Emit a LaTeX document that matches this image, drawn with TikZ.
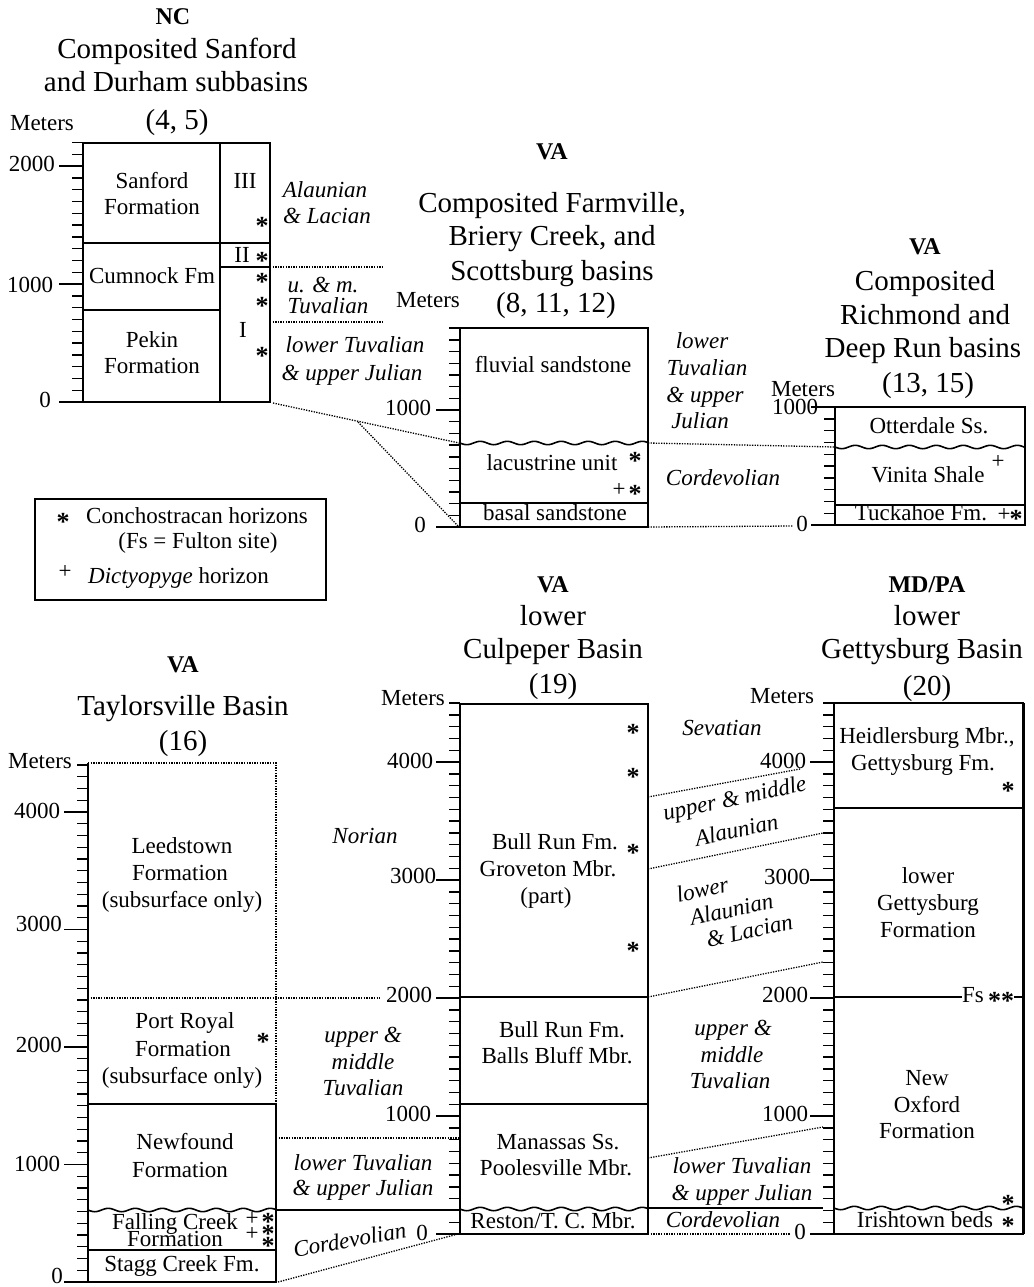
\documentclass[tikz,border=0pt]{standalone}
\usepackage{fontspec}
\setmainfont{Liberation Serif}
\newcommand\mytks[4]{%
  \foreach \i in {0,...,#3}{%
    \pgfmathsetmacro\yy{#2-\i*#4/10}%
    \pgfmathtruncatemacro\mm{mod(\i,10)}%
    \ifnum\mm=0 \draw[tk] ({#1-24},\yy)--(#1,\yy);\else\draw[tk] ({#1-11},\yy)--(#1,\yy);\fi
  }}
\newcommand\mywave[4]{%
  \draw[bx] plot[domain=#1:#2,samples=90,smooth] (\x,{#3+1.7*sin((\x-#1)/#4*360)});}
\newcommand\nolsk{\lineskiplimit -100pt\relax}
\begin{document}
\begin{tikzpicture}[x=1pt,y=-1pt,
  T/.style={font=\fontsize{23}{25}\selectfont, inner sep=0pt, text height=16pt, text depth=5pt},
  TT/.style={T, text height=13pt, text depth=3pt},
  I/.style={T, font=\fontsize{23}{25}\selectfont\itshape},
  H/.style={font=\fontsize{29}{31}\selectfont, inner sep=0pt, text height=20pt, text depth=6pt},
  HB/.style={H, font=\fontsize{24}{28}\selectfont\bfseries},
  ast/.style={font=\fontsize{26}{26}\selectfont\bfseries, inner sep=0pt, text height=5pt, text depth=5pt, yshift=-12pt},
  pl/.style={font=\fontsize{23}{23}\selectfont, inner sep=0pt, text height=12pt, text depth=0pt},
  stk/.style={anchor=north, align=center, inner sep=0pt},
  bx/.style={line width=1.6pt},
  dl/.style={line width=1.3pt, dash pattern=on 1.3pt off 1.3pt},
  tk/.style={line width=1.4pt}]
\useasboundingbox (0,0) rectangle (1033,1287);

% ================= NC =================
\node[HB] (ncA) at (173,18) {NC};
\node[H] (ncB) at (177,52) {Composited Sanford};
\node[H] (ncC) at (176,85) {and Durham subbasins};
\node[H] (ncD) at (177,122) {(4, 5)};
\node[T] (ncM) at (42,125) {Meters};
\draw[bx] (83,143) rectangle (270,402);
\draw[bx] (220,143) -- (220,402);
\draw[bx] (83,243) -- (270,243);
\draw[bx] (83,310) -- (220,310);
\draw[bx] (220,267) -- (270,267);
\mytks{83}{402}{22}{118}
\node[T] (ncy2) at (32,166) {2000};
\node[T] (ncy1) at (30,287) {1000};
\node[T] (ncy0) at (45,402) {0};
\node[T] (nc1) at (152,183) {Sanford};
\node[T] (nc2) at (152,209) {Formation};
\node[T] (nc3) at (152,278) {Cumnock Fm};
\node[T] (nc4) at (152,342) {Pekin};
\node[T] (nc5) at (152,368) {Formation};
\node[T] (nc6) at (245,183) {III};
\node[ast] (nc7) at (262,222) {*};
\node[T] (nc8) at (242,257) {II};
\node[ast] (nc9) at (262,257) {*};
\node[ast] (nc10) at (262,278) {*};
\node[ast] (nc11) at (262,302) {*};
\node[T] (nc12) at (243,332) {I};
\node[ast] (nc13) at (262,352) {*};
\node[I] (nc14) at (325,192) {Alaunian};
\node[I] (nc15) at (327,218) {\& Lacian};
\node[I] (nc16) at (323,287) {u. \& m.};
\node[I] (nc17) at (328,308) {Tuvalian};
\node[I] (nc18) at (355,347) {lower Tuvalian};
\node[I] (nc19) at (352,375) {\& upper Julian};
\coordinate (ncR1) at (270,267); \coordinate (ncR1e) at (382,267);
\coordinate (ncR2) at (270,322); \coordinate (ncR2e) at (382,322);
\draw[dl] (ncR1) -- (ncR1e);
\draw[dl] (ncR2) -- (ncR2e);

% ================= Farmville =================
\node[HB] (faA) at (552,152) {VA};
\node[H] (faB) at (552,205) {Composited Farmville,};
\node[H] (faC) at (552,238) {Briery Creek, and};
\node[H] (faD) at (552,273) {Scottsburg basins};
\node[H] (faE) at (556,305) {(8, 11, 12)};
\node[T] (faM) at (428,302) {Meters};
\draw[bx] (460,443) -- (460,328) -- (648,328) -- (648,443);
\draw[bx] (460,443) -- (460,527) -- (648,527) -- (648,443);
\mywave{460}{648}{443}{27}
\draw[bx] (460,503) -- (648,503);
\mytks{460}{527}{17}{117}
\node[T] (fay1) at (408,410) {1000};
\node[T] (fay0) at (420,527) {0};
\node[T] (fa1) at (553,367) {fluvial sandstone};
\node[T] (fa2) at (552,465) {lacustrine unit};
\node[ast] (fa3) at (635,457) {*};
\node[pl] (fa4) at (619,490) {+};
\node[ast] (fa5) at (635,490) {*};
\node[T] (fa6) at (555,515) {basal sandstone};
\node[I] (fa7) at (702,343) {lower};
\node[I] (fa8) at (707,370) {Tuvalian};
\node[I] (fa9) at (705,397) {\& upper};
\node[I] (fa10) at (700,423) {Julian};
\node[I] (fa11) at (723,480) {Cordevolian};
% NC - Farmville correlation
\coordinate (ncBR) at (273,403);
\coordinate (brk) at (358,422);
\coordinate (faU) at (459,443);
\coordinate (fa0) at (459,527);
\draw[dl] (ncBR) -- (faU);
\draw[dl] (brk) -- (fa0);

% ================= Richmond =================
\node[HB] (riA) at (925,247) {VA};
\node[H] (riB) at (925,283) {Composited};
\node[H] (riC) at (925,317) {Richmond and};
\node[H] (riD) at (923,350) {Deep Run basins};
\node[H] (riE) at (928,385) {(13, 15)};
\node[TT] (riM) at (803,391) {Meters};
\draw[bx] (835,447) -- (835,407) -- (1025,407) -- (1025,447);
\draw[bx] (835,447) -- (835,525) -- (1025,525) -- (1025,447);
\mywave{835}{1025}{447}{27}
\draw[bx] (835,505) -- (1025,505);
\mytks{835}{525}{10}{118}
\node[TT] (riy1) at (795,409) {1000};
\node[T] (riy0) at (802,526) {0};
\node[T] (ri1) at (929,428) {Otterdale Ss.};
\node[T] (ri2) at (928,477) {Vinita Shale};
\node[pl] (ri3) at (998,462) {+};
\node[T] (ri4) at (921,515) {Tuckahoe Fm.};
\node[pl] (ri5) at (1004,515) {+};
\node[ast] (ri6) at (1016,515) {*};
\coordinate (faRU) at (648,443); \coordinate (riU) at (835,447);
\coordinate (faR0) at (648,527); \coordinate (ri0e) at (793,526);
\draw[dl] (faRU) -- (riU);
\draw[dl] (faR0) -- (ri0e);

% ================= Legend =================
\draw[bx] (35,499) rectangle (326,600);
\node[ast] (lg1) at (63,518) {*};
\node[T, anchor=west] (lg2) at (86,518) {Conchostracan horizons};
\node[T] (lg3) at (198,543) {(Fs = Fulton site)};
\node[pl] (lg4) at (65,572) {+};
\node[T, anchor=west] (lg5) at (88,578) {\textit{Dictyopyge} horizon};

% ================= Taylorsville =================
\node[HB] (taA) at (183,665) {VA};
\node[H] (taB) at (183,708) {Taylorsville Basin};
\node[H] (taC) at (183,743) {(16)};
\node[T] (taM) at (40,763) {Meters};
\draw[bx] (88,763) -- (88,1282) -- (276,1282) -- (276,1104);
\draw[dl] (88,763) -- (276,763) -- (276,1104);
\draw[bx] (88,1104) -- (276,1104);
\mywave{88}{276}{1210}{27}
\draw[bx] (88,1250) -- (276,1250);
\mytks{88}{1282}{44}{117.5}
\node[T] (tay4) at (37,813) {4000};
\node[T] (tay3) at (39,926) {3000};
\node[T] (tay2) at (39,1047) {2000};
\node[T] (tay1) at (37,1166) {1000};
\node[TT] (tay0) at (57,1278) {0};
\node[T] (ta1) at (182,848) {Leedstown};
\node[T] (ta2) at (180,875) {Formation};
\node[T] (ta3) at (182,902) {(subsurface only)};
\node[I] (ta4) at (365,838) {Norian};
\node[T] (ta5) at (185,1023) {Port Royal};
\node[T] (ta6) at (183,1051) {Formation};
\node[T] (ta7) at (182,1078) {(subsurface only)};
\node[ast] (ta8) at (263,1038) {*};
\node[I] (ta9) at (363,1037) {upper \&};
\node[I] (ta10) at (363,1064) {middle};
\node[I] (ta11) at (363,1090) {Tuvalian};
\node[T] (ta12) at (185,1144) {Newfound};
\node[T] (ta13) at (180,1172) {Formation};
\node[I] (ta14) at (363,1165) {lower Tuvalian};
\node[I] (ta15) at (363,1190) {\& upper Julian};
\node[stk, font=\fontsize{23}{17}\selectfont\nolsk] (ta16) at (175,1213) {Falling Creek\\Formation};
\node[stk, font=\fontsize{23}{15}\selectfont\nolsk] (ta18) at (252,1212) {+\\+};
\node[stk, font=\fontsize{26}{12}\selectfont\bfseries\nolsk] (ta20) at (268,1213) {*\\*\\*};
\node[T] (ta23) at (182,1266) {Stagg Creek Fm.};
\node[I, rotate=10] (ta24) at (350,1242) {Cordevolian};
% Taylorsville - Culpeper correlation
\coordinate (taL2) at (88,998); \coordinate (cuL2e) at (380,998);
\coordinate (taR5) at (276,1138); \coordinate (cuL5) at (460,1138);
\coordinate (taRw) at (276,1210); \coordinate (cuLw) at (460,1210);
\coordinate (taR0) at (278,1282); \coordinate (cuL0) at (458,1234);
\draw[dl] (taL2) -- (cuL2e);
\draw[dl] (taR5) -- (cuL5);
\draw[bx] (taRw) -- (cuLw);
\draw[dl] (taR0) -- (cuL0);

% ================= Culpeper =================
\node[HB] (cuA) at (553,585) {VA};
\node[H] (cuB) at (553,618) {lower};
\node[H] (cuC) at (553,651) {Culpeper Basin};
\node[H] (cuD) at (553,686) {(19)};
\node[T] (cuM) at (413,700) {Meters};
\draw[bx] (460,1209) -- (460,704) -- (648,704) -- (648,1209);
\draw[bx] (460,1209) -- (460,1234) -- (648,1234) -- (648,1209);
\draw[bx] (460,997) -- (648,997);
\draw[bx] (460,1104) -- (648,1104);
\mywave{460}{648}{1209}{27}
\mytks{460}{1234}{45}{118}
\node[T] (cuy4) at (410,763) {4000};
\node[T] (cuy3) at (413,878) {3000};
\node[T] (cuy2) at (409,997) {2000};
\node[T] (cuy1) at (408,1116) {1000};
\node[T] (cuy0) at (422,1235) {0};
\node[ast] (cu1) at (633,729) {*};
\node[ast] (cu2) at (633,773) {*};
\node[ast] (cu3) at (633,849) {*};
\node[ast] (cu4) at (633,947) {*};
\node[T] (cu5) at (555,844) {Bull Run Fm.};
\node[T] (cu6) at (548,871) {Groveton Mbr.};
\node[T] (cu7) at (546,898) {(part)};
\node[T] (cu8) at (562,1032) {Bull Run Fm.};
\node[T] (cu9) at (557,1058) {Balls Bluff Mbr.};
\node[T] (cu10) at (558,1144) {Manassas Ss.};
\node[T] (cu11) at (556,1170) {Poolesville Mbr.};
\node[T] (cu12) at (553,1223) {Reston/T. C. Mbr.};
% gap labels
\node[I] (gp1) at (722,730) {Sevatian};
\node[I, rotate=12] (gp2) at (735,800) {upper \& middle};
\node[I, rotate=12] (gp3) at (737,832) {Alaunian};
\node[I, rotate=12, text height=13pt, text depth=3pt] (gp4) at (703,892) {lower};
\node[I, rotate=12, text height=13pt, text depth=3pt] (gp5) at (732,912) {Alaunian};
\node[I, rotate=12, text height=13pt, text depth=3pt] (gp6) at (750,933) {\& Lacian};
\node[I] (gp7) at (733,1030) {upper \&};
\node[I] (gp8) at (732,1057) {middle};
\node[I] (gp9) at (730,1083) {Tuvalian};
\node[I] (gp10) at (742,1168) {lower Tuvalian};
\node[I] (gp11) at (742,1195) {\& upper Julian};
\node[I] (gp12) at (723,1222) {Cordevolian};
% Culpeper - Gettysburg correlation
\coordinate (cuR1) at (648,797); \coordinate (geL1) at (800,769);
\coordinate (cuR2) at (648,869); \coordinate (geL2) at (823,833);
\coordinate (cuR3) at (648,997); \coordinate (geL3) at (823,962);
\coordinate (cuR4) at (648,1158); \coordinate (geL4) at (823,1127);
\coordinate (cuR5) at (648,1208); \coordinate (geL5) at (823,1208);
\coordinate (cuR6) at (648,1234); \coordinate (geL6) at (790,1234);
\draw[dl] (cuR1) -- (geL1);
\draw[dl] (cuR2) -- (geL2);
\draw[dl] (cuR3) -- (geL3);
\draw[dl] (cuR4) -- (geL4);
\draw[bx] (cuR5) -- (geL5);
\draw[dl] (cuR6) -- (geL6);

% ================= Gettysburg =================
\node[HB] (geA) at (927,585) {MD/PA};
\node[H] (geB) at (927,618) {lower};
\node[H] (geC) at (922,651) {Gettysburg Basin};
\node[H] (geD) at (927,688) {(20)};
\node[T] (geM) at (782,698) {Meters};
\draw[bx] (834,1208) -- (834,703) -- (1023,703) -- (1023,1208);
\draw[bx] (834,1208) -- (834,1234) -- (1023,1234) -- (1023,1208);
\draw[line width=2.6pt] (1024,703) -- (1024,1234);
\draw[bx] (834,808) -- (1023,808);
\mywave{834}{1023}{1208}{27}
\mytks{834}{1234}{45}{118}
\node[T] (gey4) at (783,763) {4000};
\node[T] (gey3) at (787,879) {3000};
\node[T] (gey2) at (785,997) {2000};
\node[T] (gey1) at (785,1116) {1000};
\node[T] (gey0) at (800,1234) {0};
\node[T] (ge1) at (927,738) {Heidlersburg Mbr.,};
\node[T] (ge2) at (923,765) {Gettysburg Fm.};
\node[ast] (ge3) at (1008,787) {*};
\node[T] (ge4) at (928,878) {lower};
\node[T] (ge5) at (928,905) {Gettysburg};
\node[T] (ge6) at (928,932) {Formation};
\node[T] (geFs) at (973,997) {Fs};
\node[ast] (geSt) at (1001,997) {**};
\draw[bx] (834,997) -- (geFs.west);
\draw[bx] (geSt.east |- 0,997) -- (1023,997);
\node[T] (ge7) at (927,1080) {New};
\node[T] (ge8) at (927,1107) {Oxford};
\node[T] (ge9) at (927,1133) {Formation};
\node[ast] (ge10) at (1008,1200) {*};
\node[T] (ge11) at (925,1222) {Irishtown beds};
\node[ast] (ge12) at (1008,1222) {*};
\end{tikzpicture}
\end{document}
